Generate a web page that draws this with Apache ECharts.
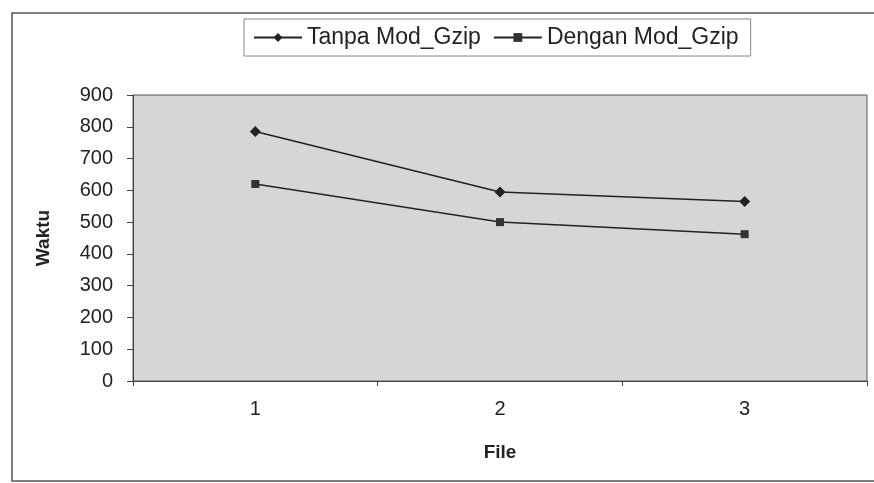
<!DOCTYPE html>
<html>
<head>
<meta charset="utf-8">
<script src="https://cdn.jsdelivr.net/npm/echarts@6/dist/echarts.min.js"></script>
<style>
  html, body { margin: 0; padding: 0; background: #fff; }
  #container { width: 874px; height: 483px; }
</style>
</head>
<body>
<div id="container"></div>
<script>
var files = ['1', '2', '3'];
var tanpaGzip = [785, 595, 565];
var denganGzip = [620, 500, 462];
var yTicks = [0, 100, 200, 300, 400, 500, 600, 700, 800, 900];

var myChart = echarts.init(document.getElementById('container'));
var font = 'Liberation Sans, Arial, sans-serif';

var option = {
    backgroundColor: '#ffffff',
    animation: false,
    graphic: [
        {
            type: 'rect',
            shape: { x: 12, y: 13, width: 870, height: 468 },
            style: { fill: 'none', stroke: '#555', lineWidth: 1.5 }
        }
    ],
    legend: {
        top: 19,
        left: 244,
        padding: [7, 12, 7, 9],
        borderColor: '#888',
        borderWidth: 1,
        itemWidth: 48,
        itemHeight: 11,
        itemGap: 12,
        textStyle: { fontFamily: font, fontSize: 23, color: '#222' },
        data: ['Tanpa Mod_Gzip', 'Dengan Mod_Gzip']
    },
    grid: {
        left: 133,
        right: 7,
        top: 95,
        bottom: 102,
        show: true,
        backgroundColor: '#d6d6d6',
        borderColor: '#555',
        borderWidth: 1
    },
    xAxis: {
        type: 'category',
        data: files,
        boundaryGap: true,
        name: 'File',
        nameLocation: 'middle',
        nameGap: 62,
        nameTextStyle: { fontFamily: font, fontSize: 19, fontWeight: 'bold', color: '#222' },
        axisLine: { lineStyle: { color: '#444' } },
        axisTick: { show: true, length: 5, lineStyle: { color: '#444' } },
        axisLabel: { fontFamily: font, fontSize: 20, color: '#222', margin: 18 }
    },
    yAxis: {
        type: 'value',
        min: yTicks[0],
        max: yTicks[yTicks.length - 1],
        interval: 100,
        name: 'Waktu',
        nameLocation: 'middle',
        nameGap: 80,
        nameTextStyle: { fontFamily: font, fontSize: 19, fontWeight: 'bold', color: '#222' },
        axisLine: { show: true, lineStyle: { color: '#444' } },
        axisTick: { show: true, length: 6, lineStyle: { color: '#444' } },
        axisLabel: { fontFamily: font, fontSize: 20, color: '#222', margin: 20 },
        splitLine: { show: false }
    },
    series: [
        {
            name: 'Tanpa Mod_Gzip',
            type: 'line',
            data: tanpaGzip,
            symbol: 'diamond',
            symbolSize: 11,
            lineStyle: { color: '#222', width: 1.5 },
            itemStyle: { color: '#222' }
        },
        {
            name: 'Dengan Mod_Gzip',
            type: 'line',
            data: denganGzip,
            symbol: 'rect',
            symbolSize: 8,
            lineStyle: { color: '#222', width: 1.5 },
            itemStyle: { color: '#333' }
        }
    ]
};

myChart.setOption(option);
</script>
</body>
</html>
